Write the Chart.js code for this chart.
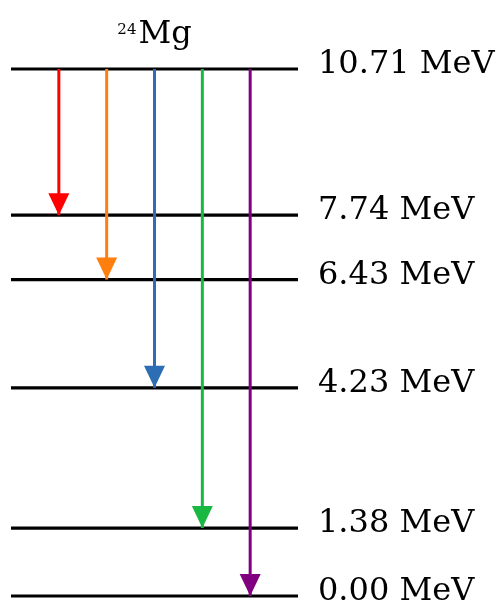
<!DOCTYPE html>
<html>
<head>
<meta charset="utf-8">
<script src="https://cdn.jsdelivr.net/npm/chart.js@4"></script>
<style>
  html, body { margin: 0; padding: 0; background: #fff; }
  #wrap { width: 504px; height: 610px; }
</style>
</head>
<body>
<div id="wrap"><canvas id="levelChart"></canvas></div>
<script>
const massNumber = '24';
const element = 'Mg';
const levelEnergies = [10.71, 7.74, 6.43, 4.23, 1.38, 0.00];
const levelLabels = ['10.71 MeV', '7.74 MeV', '6.43 MeV', '4.23 MeV', '1.38 MeV', '0.00 MeV'];
const transitionStart = 10.71;
const transitionEnds = [7.74, 6.43, 4.23, 1.38, 0.00];
const transitionColors = ['#ff0000', '#ff7f0e', '#2c6db3', '#19b843', '#800080'];

const serif = "'DejaVu Serif', 'Liberation Serif', serif";

// arrowheads are drawn at the last point of each transition line
const arrowHeads = {
  id: 'arrowHeads',
  afterDatasetsDraw(chart) {
    const ctx = chart.ctx;
    chart.data.datasets.forEach((ds, i) => {
      if (!ds.isArrow) return;
      const tip = chart.getDatasetMeta(i).data[1];
      ctx.save();
      ctx.fillStyle = ds.borderColor;
      ctx.beginPath();
      ctx.moveTo(tip.x, tip.y);
      ctx.lineTo(tip.x - 10.5, tip.y - 22);
      ctx.lineTo(tip.x + 10.5, tip.y - 22);
      ctx.closePath();
      ctx.fill();
      ctx.restore();
    });
  }
};

// nucleus name with superscript mass number, centred over the level lines
const nucleusTitle = {
  id: 'nucleusTitle',
  afterDraw(chart) {
    const ctx = chart.ctx;
    const area = chart.chartArea;
    ctx.save();
    ctx.fillStyle = '#000';
    ctx.textBaseline = 'alphabetic';
    ctx.font = '15px ' + serif;
    const wSup = ctx.measureText(massNumber).width;
    ctx.font = '32px ' + serif;
    const wMain = ctx.measureText(element).width;
    const x0 = (area.left + area.right) / 2 - (wSup + wMain + 2) / 2;
    ctx.fillText(element, x0 + wSup + 2, area.top - 26);
    ctx.font = '15px ' + serif;
    ctx.fillText(massNumber, x0, area.top - 35.5);
    ctx.restore();
  }
};

const levelSets = levelEnergies.map(e => ({
  data: [{ x: 0, y: e }, { x: 6, y: e }],
  borderColor: '#000',
  borderWidth: 3.2,
  pointRadius: 0,
  clip: false,
  order: 1
}));

const arrowSets = transitionEnds.map((e, i) => ({
  data: [{ x: i + 1, y: transitionStart }, { x: i + 1, y: e }],
  borderColor: transitionColors[i],
  borderWidth: 3,
  pointRadius: 0,
  clip: false,
  order: 0,
  isArrow: true
}));

new Chart(document.getElementById('levelChart'), {
  type: 'line',
  data: { datasets: [...levelSets, ...arrowSets] },
  plugins: [arrowHeads, nucleusTitle],
  options: {
    responsive: true,
    maintainAspectRatio: false,
    animation: false,
    layout: { padding: { left: 11, top: 69, bottom: 14, right: 0 } },
    plugins: {
      legend: { display: false },
      tooltip: { enabled: false },
      title: { display: false }
    },
    scales: {
      x: { type: 'linear', min: 0, max: 6, display: false },
      y: {
        type: 'linear',
        position: 'right',
        min: 0,
        max: 10.71,
        border: { display: false },
        grid: { display: false, drawTicks: false },
        afterBuildTicks: axis => { axis.ticks = levelEnergies.map(v => ({ value: v })); },
        afterFit: axis => {
          axis.width = 206;
          axis.paddingTop = 0;
          axis.paddingBottom = 0;
        },
        ticks: {
          padding: 20,
          labelOffset: -4,
          color: '#000',
          font: { family: serif, size: 32 },
          callback: v => levelLabels[levelEnergies.indexOf(v)]
        }
      }
    }
  }
});
</script>
</body>
</html>
